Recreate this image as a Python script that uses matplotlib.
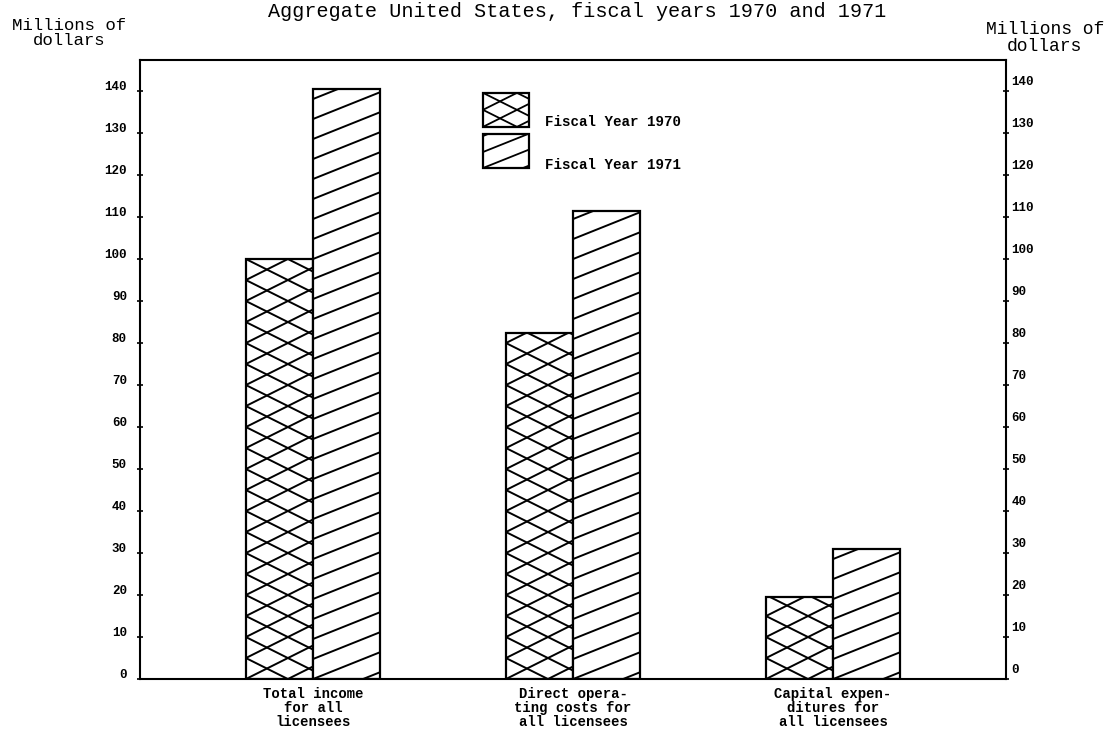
import numpy as np
import matplotlib
matplotlib.use("Agg")
import matplotlib.pyplot as plt
from matplotlib.patches import Rectangle
from matplotlib.transforms import ScaledTranslation

categories = ["Total income\nfor all\nlicensees",
              "Direct opera-\nting costs for\nall licensees",
              "Capital expen-\nditures for\nall licensees"]
fy1970 = [100, 82.5, 19.5]
fy1971 = [140.5, 111.5, 31]
yticks = list(range(0, 150, 10))

plt.rcParams['font.family'] = ['Liberation Mono', 'DejaVu Sans Mono']

fig = plt.figure(figsize=(11.15, 7.38), dpi=100)
ax = fig.add_axes([0.1256, 0.0799, 0.7767, 0.8388])
ax.set_xlim(-0.665, 2.665)
ax.set_ylim(0, 147.4)


def hatch_lines(patch, slopes, spacing, lw=1.4):
    # draw sloped lines (pixel space) clipped to the patch
    bb = patch.get_window_extent()
    x0, y0, x1, y1 = bb.x0, bb.y0, bb.x1, bb.y1
    w, h = x1 - x0, y1 - y0
    inv = ax.transData.inverted()
    z = patch.get_zorder() + 0.1
    for s in slopes:
        n0 = -int(np.ceil(abs(s) * w / spacing)) - 2
        n1 = int(np.ceil((h + abs(s) * w) / spacing)) + 2
        for k in range(n0, n1):
            xs = np.array([x0 - 5, x1 + 5])
            ys = y0 + s * (xs - x0) + k * spacing
            pts = inv.transform(np.column_stack([xs, ys]))
            ln, = ax.plot(pts[:, 0], pts[:, 1], color='black', lw=lw,
                          solid_capstyle='butt', zorder=z)
            ln.set_clip_path(patch)


x = np.arange(len(categories))
width = 0.258
bars70 = ax.bar(x - width / 2, fy1970, width, color='white',
                edgecolor='black', linewidth=1.6, zorder=2)
bars71 = ax.bar(x + width / 2, fy1971, width, color='white',
                edgecolor='black', linewidth=1.6, zorder=2)

for b in bars70:
    hatch_lines(b, [0.5, -0.5], 21)
for b in bars71:
    hatch_lines(b, [0.4], 20)

# legend boxes
leg70 = Rectangle((0.396, 0.892), 0.053, 0.055, transform=ax.transAxes,
                  facecolor='white', edgecolor='black', lw=1.6, zorder=3)
leg71 = Rectangle((0.396, 0.8255), 0.053, 0.055, transform=ax.transAxes,
                  facecolor='white', edgecolor='black', lw=1.6, zorder=3)
ax.add_patch(leg70)
ax.add_patch(leg71)
hatch_lines(leg70, [0.5, -0.5], 17, lw=1.3)
hatch_lines(leg71, [0.4], 16, lw=1.3)
ax.text(0.4677, 0.900, "Fiscal Year 1970", transform=ax.transAxes,
        fontsize=10.2, fontweight='bold', va='center')
ax.text(0.4677, 0.830, "Fiscal Year 1971", transform=ax.transAxes,
        fontsize=10.2, fontweight='bold', va='center')

# axes styling
for side in ['left', 'right', 'top', 'bottom']:
    ax.spines[side].set_linewidth(1.5)
ax.set_xticks(x)
ax.set_xticklabels(categories, fontsize=10, fontweight='bold',
                   linespacing=1.0)
ax.tick_params(axis='x', length=0, pad=6)
ax.set_yticks(yticks)
ax.set_yticklabels([str(t) for t in yticks], fontsize=9, fontweight='bold')
ax.tick_params(axis='y', direction='inout', length=5, width=1.2,
               left=True, right=True, labelleft=True, labelright=True)
ax.tick_params(axis='y', which='major', pad=7)
for lab in ax.get_yticklabels():
    lab.set_transform(lab.get_transform() +
                      ScaledTranslation(0, 0.06, fig.dpi_scale_trans))
for t in ax.yaxis.get_major_ticks():
    t.label2.set_fontweight('bold')
    t.label2.set_fontsize(9)
    t.label2.set_transform(t.label2.get_transform() +
                           ScaledTranslation(-0.08, 0.05, fig.dpi_scale_trans))

# titles
fig.text(0.518, 0.985, "Aggregate United States, fiscal years 1970 and 1971",
         ha='center', va='center', fontsize=14.5)
fig.text(0.062, 0.976, "Millions of\ndollars", ha='center', va='top',
         fontsize=12.5, linespacing=1.0)
fig.text(0.937, 0.972, "Millions of\ndollars", ha='center', va='top',
         fontsize=13, linespacing=1.0)

fig.savefig("out.png", dpi=100)
